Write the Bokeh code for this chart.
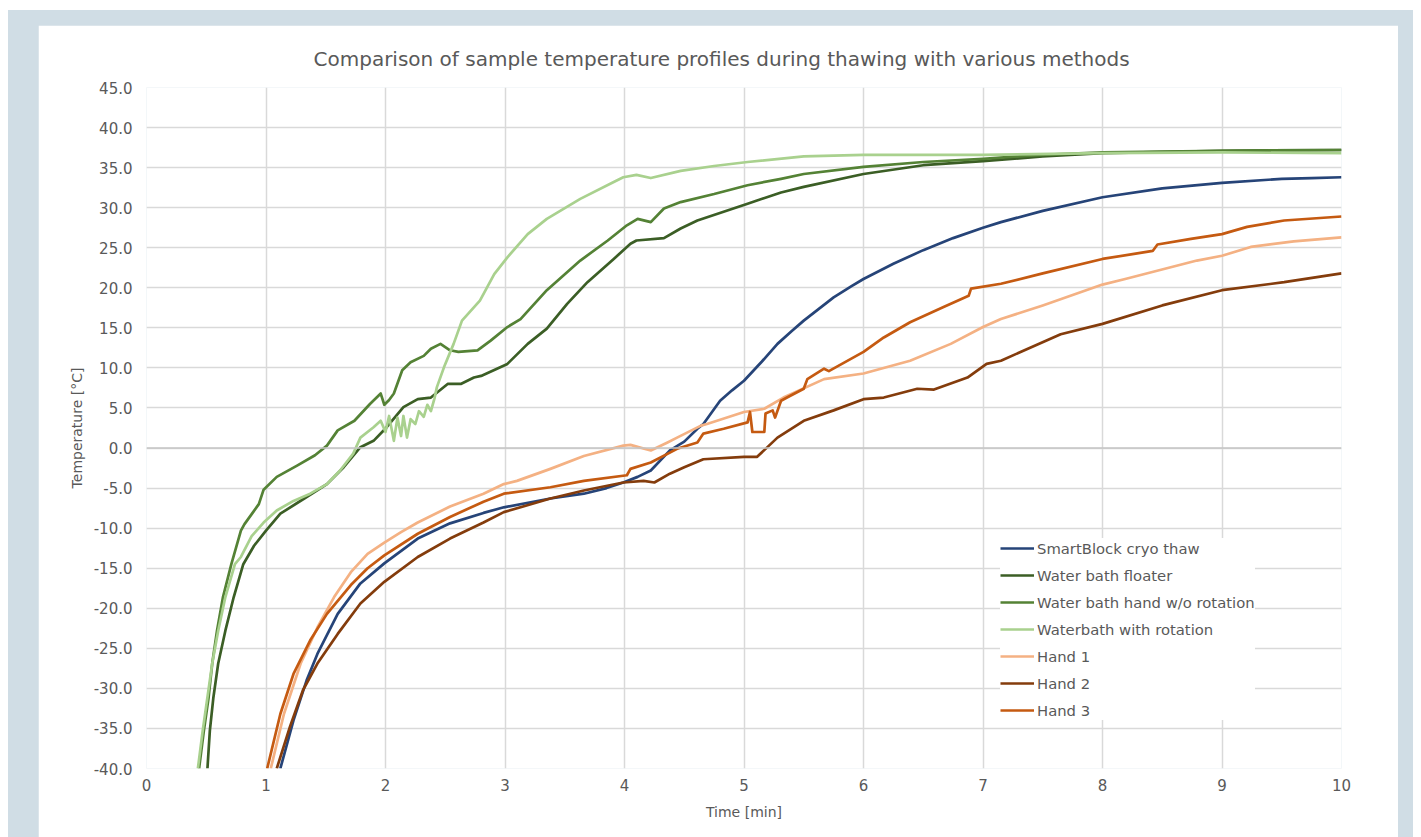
from bokeh.plotting import figure
from bokeh.layouts import column
from bokeh.models import Span, FixedTicker, NumeralTickFormatter, Range1d
from bokeh.embed import file_html
from bokeh.resources import INLINE

# ---- data ----
sb_t = [1.12, 1.23, 1.34, 1.43, 1.60, 1.79, 1.99, 2.27, 2.54, 2.82, 2.99, 3.38, 3.66, 3.85, 3.99, 4.11, 4.22, 4.38, 4.50, 4.61, 4.66, 4.80, 4.90, 5.00, 5.15, 5.28, 5.40, 5.50, 5.75, 5.90, 6.00, 6.25, 6.50, 6.75, 7.00, 7.15, 7.50, 8.00, 8.50, 9.00, 9.50, 9.75, 10.0]
sb_T = [-40, -34.0, -29.0, -25.7, -20.7, -16.9, -14.4, -11.3, -9.4, -8.1, -7.4, -6.3, -5.7, -5.0, -4.3, -3.6, -2.8, -0.3, 0.8, 2.4, 3.0, 5.9, 7.2, 8.4, 10.8, 13.0, 14.6, 15.9, 18.8, 20.2, 21.1, 23.0, 24.7, 26.2, 27.5, 28.2, 29.6, 31.3, 32.4, 33.1, 33.6, 33.7, 33.8]

fl_t = [0.51, 0.53, 0.56, 0.60, 0.66, 0.73, 0.81, 0.90, 1.00, 1.12, 1.32, 1.51, 1.65, 1.79, 1.90, 2.01, 2.15, 2.27, 2.38, 2.52, 2.63, 2.74, 2.80, 3.02, 3.19, 3.35, 3.52, 3.69, 3.91, 4.05, 4.10, 4.33, 4.47, 4.61, 5.03, 5.31, 5.50, 6.00, 6.50, 7.00, 7.50, 8.00, 9.00, 10.0]
fl_T = [-40, -35.3, -31.1, -26.9, -22.8, -18.6, -14.5, -12.2, -10.3, -8.2, -6.3, -4.5, -2.4, 0.1, 0.9, 2.6, 5.1, 6.1, 6.3, 8.0, 8.0, 8.8, 9.0, 10.5, 13.0, 14.9, 18.0, 20.7, 23.6, 25.5, 25.9, 26.2, 27.4, 28.4, 30.5, 31.9, 32.6, 34.2, 35.3, 35.8, 36.4, 36.8, 37.1, 37.2]

hw_t = [0.44, 0.48, 0.52, 0.55, 0.59, 0.64, 0.71, 0.79, 0.82, 0.94, 0.98, 1.09, 1.26, 1.41, 1.51, 1.60, 1.74, 1.87, 1.96, 1.99, 2.03, 2.07, 2.14, 2.21, 2.32, 2.38, 2.46, 2.54, 2.61, 2.77, 2.88, 3.02, 3.13, 3.35, 3.63, 3.86, 4.02, 4.11, 4.22, 4.33, 4.47, 4.75, 5.03, 5.31, 5.50, 6.00, 6.50, 7.00, 7.50, 8.00, 9.00, 10.0]
hw_T = [-40, -35.3, -31.1, -26.9, -22.8, -18.6, -14.5, -10.3, -9.5, -7.0, -5.2, -3.6, -2.2, -0.9, 0.3, 2.2, 3.4, 5.5, 6.8, 5.4, 6.0, 6.8, 9.7, 10.7, 11.5, 12.4, 13.0, 12.2, 12.0, 12.2, 13.4, 15.1, 16.1, 19.7, 23.4, 25.9, 27.8, 28.6, 28.2, 29.9, 30.7, 31.7, 32.8, 33.6, 34.2, 35.1, 35.7, 36.1, 36.6, 36.9, 37.1, 37.2]

wr_t = [0.43, 0.47, 0.51, 0.55, 0.60, 0.66, 0.74, 0.79, 0.88, 0.98, 1.09, 1.23, 1.37, 1.51, 1.62, 1.73, 1.79, 1.90, 1.96, 2.00, 2.03, 2.07, 2.10, 2.13, 2.15, 2.18, 2.21, 2.25, 2.28, 2.32, 2.35, 2.38, 2.41, 2.43, 2.49, 2.57, 2.64, 2.79, 2.91, 3.02, 3.19, 3.35, 3.63, 3.91, 3.99, 4.10, 4.22, 4.47, 4.75, 5.03, 5.50, 6.00, 7.00, 8.00, 9.00, 10.0]
wr_T = [-40, -35.3, -31.1, -26.9, -22.8, -18.6, -14.5, -13.6, -11.0, -9.3, -7.8, -6.6, -5.7, -4.5, -2.8, -0.7, 1.3, 2.6, 3.4, 2.0, 4.0, 0.9, 3.8, 1.5, 4.0, 1.3, 3.6, 3.0, 4.6, 3.9, 5.4, 4.6, 6.2, 7.6, 10.1, 13.0, 15.9, 18.4, 21.7, 23.8, 26.7, 28.6, 31.1, 33.2, 33.8, 34.1, 33.7, 34.6, 35.2, 35.7, 36.4, 36.6, 36.6, 36.8, 36.9, 36.8]

h1_t = [1.04, 1.15, 1.29, 1.43, 1.57, 1.71, 1.85, 1.99, 2.13, 2.27, 2.54, 2.82, 2.99, 3.10, 3.38, 3.66, 3.99, 4.05, 4.22, 4.36, 4.44, 4.64, 4.69, 5.00, 5.17, 5.33, 5.67, 6.00, 6.39, 6.73, 7.00, 7.15, 7.50, 8.00, 8.19, 8.79, 9.00, 9.24, 9.60, 10.0]
h1_T = [-40, -33.2, -26.9, -22.4, -18.6, -15.5, -13.2, -11.8, -10.5, -9.3, -7.3, -5.7, -4.5, -4.1, -2.6, -1.0, 0.3, 0.4, -0.3, 0.7, 1.3, 2.8, 3.0, 4.5, 4.9, 6.3, 8.6, 9.3, 10.9, 13.0, 15.1, 16.1, 17.8, 20.4, 21.1, 23.4, 24.0, 25.1, 25.8, 26.3]

h2_t = [1.09, 1.20, 1.31, 1.43, 1.60, 1.79, 1.99, 2.27, 2.54, 2.82, 2.99, 3.38, 3.66, 3.99, 4.16, 4.25, 4.38, 4.50, 4.66, 5.00, 5.11, 5.28, 5.50, 5.75, 6.00, 6.17, 6.45, 6.59, 6.87, 7.03, 7.15, 7.65, 8.00, 8.50, 9.00, 9.52, 10.0]
h2_T = [-40, -34.8, -30.2, -26.9, -23.2, -19.4, -16.7, -13.6, -11.3, -9.3, -8.0, -6.3, -5.3, -4.3, -4.1, -4.3, -3.2, -2.4, -1.4, -1.1, -1.1, 1.3, 3.4, 4.7, 6.1, 6.3, 7.4, 7.3, 8.8, 10.5, 10.9, 14.2, 15.5, 17.8, 19.7, 20.7, 21.8]

h3_t = [1.01, 1.12, 1.23, 1.37, 1.51, 1.71, 1.85, 1.99, 2.27, 2.54, 2.82, 2.99, 3.38, 3.66, 4.02, 4.05, 4.22, 4.44, 4.61, 4.66, 4.83, 5.03, 5.05, 5.07, 5.17, 5.18, 5.24, 5.26, 5.31, 5.36, 5.50, 5.53, 5.67, 5.71, 6.00, 6.17, 6.39, 6.67, 6.88, 6.90, 7.15, 7.50, 8.00, 8.42, 8.46, 8.74, 9.00, 9.21, 9.52, 10.0]
h3_T = [-40, -33.2, -28.2, -24.0, -20.7, -17.1, -15.0, -13.4, -10.7, -8.6, -6.7, -5.7, -4.9, -4.1, -3.4, -2.6, -1.8, -0.1, 0.7, 1.8, 2.4, 3.2, 4.5, 2.0, 2.0, 4.3, 4.7, 3.8, 5.9, 6.3, 7.4, 8.6, 9.9, 9.6, 12.0, 13.8, 15.7, 17.6, 19.0, 19.9, 20.5, 21.8, 23.6, 24.6, 25.4, 26.1, 26.7, 27.6, 28.4, 28.9]

series_names = ["SmartBlock cryo thaw", "Water bath floater", "Water bath hand w/o rotation",
                "Waterbath with rotation", "Hand 1", "Hand 2", "Hand 3"]
series_colors = ["#264478", "#3b5e25", "#548235", "#a9d18e", "#f4b183", "#843c0c", "#c55a11"]
series_t = [sb_t, fl_t, hw_t, wr_t, h1_t, h2_t, h3_t]
series_T = [sb_T, fl_T, hw_T, wr_T, h1_T, h2_T, h3_T]

title_text = "Comparison of sample temperature profiles during thawing with various methods"
y_ticks = list(range(-40, 50, 5))
x_ticks = list(range(0, 11))

FONT = "DejaVu Sans"
TXT = "#595959"

p = figure(width=1360, height=812, output_backend="svg", toolbar_location=None,
           x_range=Range1d(0, 10), y_range=Range1d(-40, 45), title=title_text,
           min_border_left=108, min_border_right=57, min_border_top=62, min_border_bottom=69)
p.outline_line_color = None
p.background_fill_color = "white"
p.border_fill_color = "white"

p.title.align = "left"
p.title.offset = 167
p.title.text_font = FONT
p.title.text_font_size = "20px"
p.title.text_font_style = "normal"
p.title.text_color = TXT
p.title.standoff = 34

for ax in (p.xaxis[0], p.yaxis[0]):
    ax.axis_line_color = None
    ax.major_tick_line_color = None
    ax.minor_tick_line_color = None
    ax.major_label_text_font = FONT
    ax.major_label_text_color = TXT
    ax.axis_label_text_font = FONT
    ax.axis_label_text_color = TXT
    ax.axis_label_text_font_style = "normal"
    ax.axis_label_text_font_size = "14px"
    ax.major_label_text_font_size = "15px"

p.xaxis.ticker = FixedTicker(ticks=x_ticks)
p.yaxis.ticker = FixedTicker(ticks=y_ticks)
p.yaxis.formatter = NumeralTickFormatter(format="0.0")
p.xaxis.axis_label = "Time [min]"
p.yaxis.axis_label = "Temperature [°C]"
p.xaxis.major_label_standoff = 4
p.yaxis.major_label_standoff = 8
p.xaxis.axis_label_standoff = 10
p.yaxis.axis_label_standoff = 6

p.xgrid.grid_line_color = "#d9d9d9"
p.ygrid.grid_line_color = "#d9d9d9"
p.xgrid.grid_line_width = 1.5
p.ygrid.grid_line_width = 1.5

p.add_layout(Span(location=0, dimension="width", line_color="#c4c4c4", line_width=1.5))

for name, col, tt, TT in zip(series_names, series_colors, series_t, series_T):
    p.line(tt, TT, line_color=col, line_width=2.7, line_join="round", legend_label=name)

lg = p.legend[0]
lg.location = (854, 48)
lg.border_line_color = None
lg.background_fill_color = "white"
lg.background_fill_alpha = 1.0
lg.label_text_font = FONT
lg.label_text_font_size = "14.8px"
lg.label_text_color = TXT
lg.glyph_width = 34
lg.glyph_height = 20
lg.label_height = 20
lg.spacing = 7
lg.padding = 5
lg.margin = 0
lg.label_standoff = 3

layout = column(p, styles={"background-color": "#d0dde5", "margin-left": "8px", "margin-top": "10px",
                           "padding": "15px 15px 0px 30px"})

open("out.html", "w").write(file_html(layout, INLINE))
